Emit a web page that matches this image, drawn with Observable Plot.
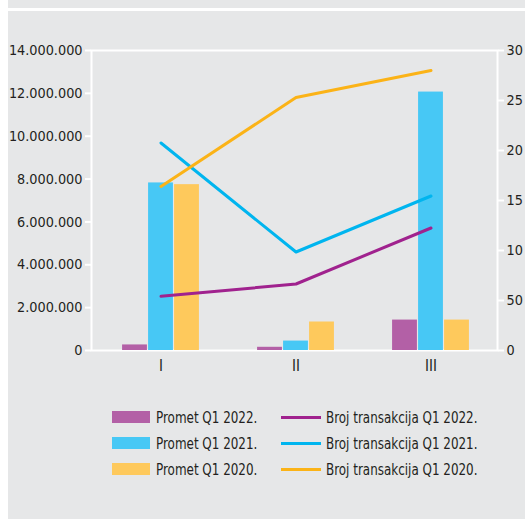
<!DOCTYPE html>
<html>
<head>
<meta charset="utf-8">
<script src="https://cdn.jsdelivr.net/npm/d3@7"></script>
<script src="https://cdn.jsdelivr.net/npm/@observablehq/plot@0.6"></script>
<style>
  html, body { margin: 0; padding: 0; background: #ffffff; }
  body { width: 525px; height: 519px; position: relative; overflow: hidden;
         font-family: 'Liberation Sans Narrow', 'DejaVu Sans Condensed', 'Arial Narrow', sans-serif; color: #231f20; }
  #bg { position: absolute; left: 8px; top: 0; width: 517px; height: 519px; background: #e6e7e8; }
  #topline { position: absolute; left: 8px; top: 8px; width: 517px; height: 3px; background: #ffffff; }
  #chart { position: absolute; left: 0; top: 0; }
  #legend { position: absolute; left: 0; top: 0; width: 525px; height: 519px; pointer-events: none; }
  .item { position: absolute; display: flex; align-items: center; font-size: 16px; white-space: nowrap; height: 20px; }
  .sw { width: 38px; height: 12px; margin-right: 6px; flex: none; }
  .ln { width: 40px; height: 3px; margin-right: 5px; flex: none; }
  .tx { display: inline-block; transform: scaleX(0.83); transform-origin: left center; }
</style>
</head>
<body>
<div id="bg"></div>
<div id="topline"></div>
<div id="chart"></div>
<div id="legend"></div>
<script>
// ---- data ----
const categories = ["I", "II", "III"];
const promet2022 = [260000, 150000, 1420000];
const promet2021 = [7820000, 440000, 12060000];
const promet2020 = [7740000, 1330000, 1420000];
const broj2022 = [5.42, 6.65, 12.25];
const broj2021 = [20.75, 9.85, 15.45];
const broj2020 = [16.4, 25.3, 28.0];

const leftTicks = [0, 2000000, 4000000, 6000000, 8000000, 10000000, 12000000, 14000000];
const leftTickLabels = ["0", "2.000.000", "4.000.000", "6.000.000", "8.000.000", "10.000.000", "12.000.000", "14.000.000"];
const rightTicks = [0, 5, 10, 15, 20, 25, 30];
const rightTickLabels = ["0", "50", "10", "15", "20", "25", "30"];

const barSeries = ["Promet Q1 2022.", "Promet Q1 2021.", "Promet Q1 2020."];
const lineSeries = ["Broj transakcija Q1 2022.", "Broj transakcija Q1 2021.", "Broj transakcija Q1 2020."];
const barColors = ["#b360a6", "#47c8f5", "#fec95c"];
const lineColors = ["#a0228e", "#00b5ef", "#fbb317"];

// ---- build tables ----
const leftMax = 14000000, rightMax = 30;
const ratio = leftMax / rightMax;
const barValues = [promet2022, promet2021, promet2020];
const lineValues = [broj2022, broj2021, broj2020];
const bars = barValues.map(vals => categories.map((c, i) => ({cat: c, value: vals[i]})));
const lines = lineValues.map(vals => categories.map((c, i) => ({cat: c, value: vals[i]})));

const barW = 25.5;
const xRange = [92, 499];
const step = (xRange[1] - xRange[0]) / categories.length;
const inset = (step - barW) / 2;
const offsets = [-26, 0, 26];
const fontStack = "'Liberation Sans Narrow', 'DejaVu Sans Condensed', 'Arial Narrow', sans-serif";

const chart = Plot.plot({
  width: 525,
  height: 380,
  marginLeft: 91,
  marginRight: 28,
  marginTop: 50,
  marginBottom: 30,
  style: {background: "transparent", fontFamily: fontStack, fontSize: "14.3px", color: "#231f20"},
  x: {type: "band", domain: categories, range: xRange, padding: 0, axis: null},
  y: {domain: [0, leftMax], axis: null},
  marks: [
    Plot.frame({stroke: "#ffffff", strokeWidth: 2}),
    ...bars.map((d, k) => Plot.barY(d, {x: "cat", y: "value", fill: barColors[k], dx: offsets[k], insetLeft: inset, insetRight: inset})),
    ...lines.map((d, k) => Plot.line(d, {x: "cat", y: v => v.value * ratio, stroke: lineColors[k], strokeWidth: 3, curve: "linear"})),
    Plot.axisY({anchor: "left", ticks: leftTicks, tickFormat: d => leftTickLabels[leftTicks.indexOf(d)], tickSize: 6, tickPadding: 3, stroke: "#ffffff", strokeWidth: 2, fill: "#231f20", fontSize: 14.3, label: null}),
    Plot.axisY({anchor: "right", ticks: rightTicks.map(t => t * ratio), tickFormat: d => rightTickLabels[rightTicks.indexOf(Math.round(d / ratio))], tickSize: 6, tickPadding: 3, stroke: "#ffffff", strokeWidth: 2, fill: "#231f20", fontSize: 14.3, label: null}),
    Plot.axisX({anchor: "bottom", tickSize: 0, tickPadding: 10, fill: "#231f20", fontSize: 15, label: null})
  ]
});
document.getElementById("chart").appendChild(chart);

// ---- legend ----
const legend = document.getElementById("legend");
const rowY = [407, 433, 459];
barSeries.forEach((name, i) => {
  const el = document.createElement("div");
  el.className = "item";
  el.style.left = "112px";
  el.style.top = rowY[i] + "px";
  el.innerHTML = `<span class="sw" style="background:${barColors[i]}"></span><span class="tx">${name}</span>`;
  legend.appendChild(el);
});
lineSeries.forEach((name, i) => {
  const el = document.createElement("div");
  el.className = "item";
  el.style.left = "281px";
  el.style.top = rowY[i] + "px";
  el.innerHTML = `<span class="ln" style="background:${lineColors[i]}"></span><span class="tx">${name}</span>`;
  legend.appendChild(el);
});
</script>
</body>
</html>
